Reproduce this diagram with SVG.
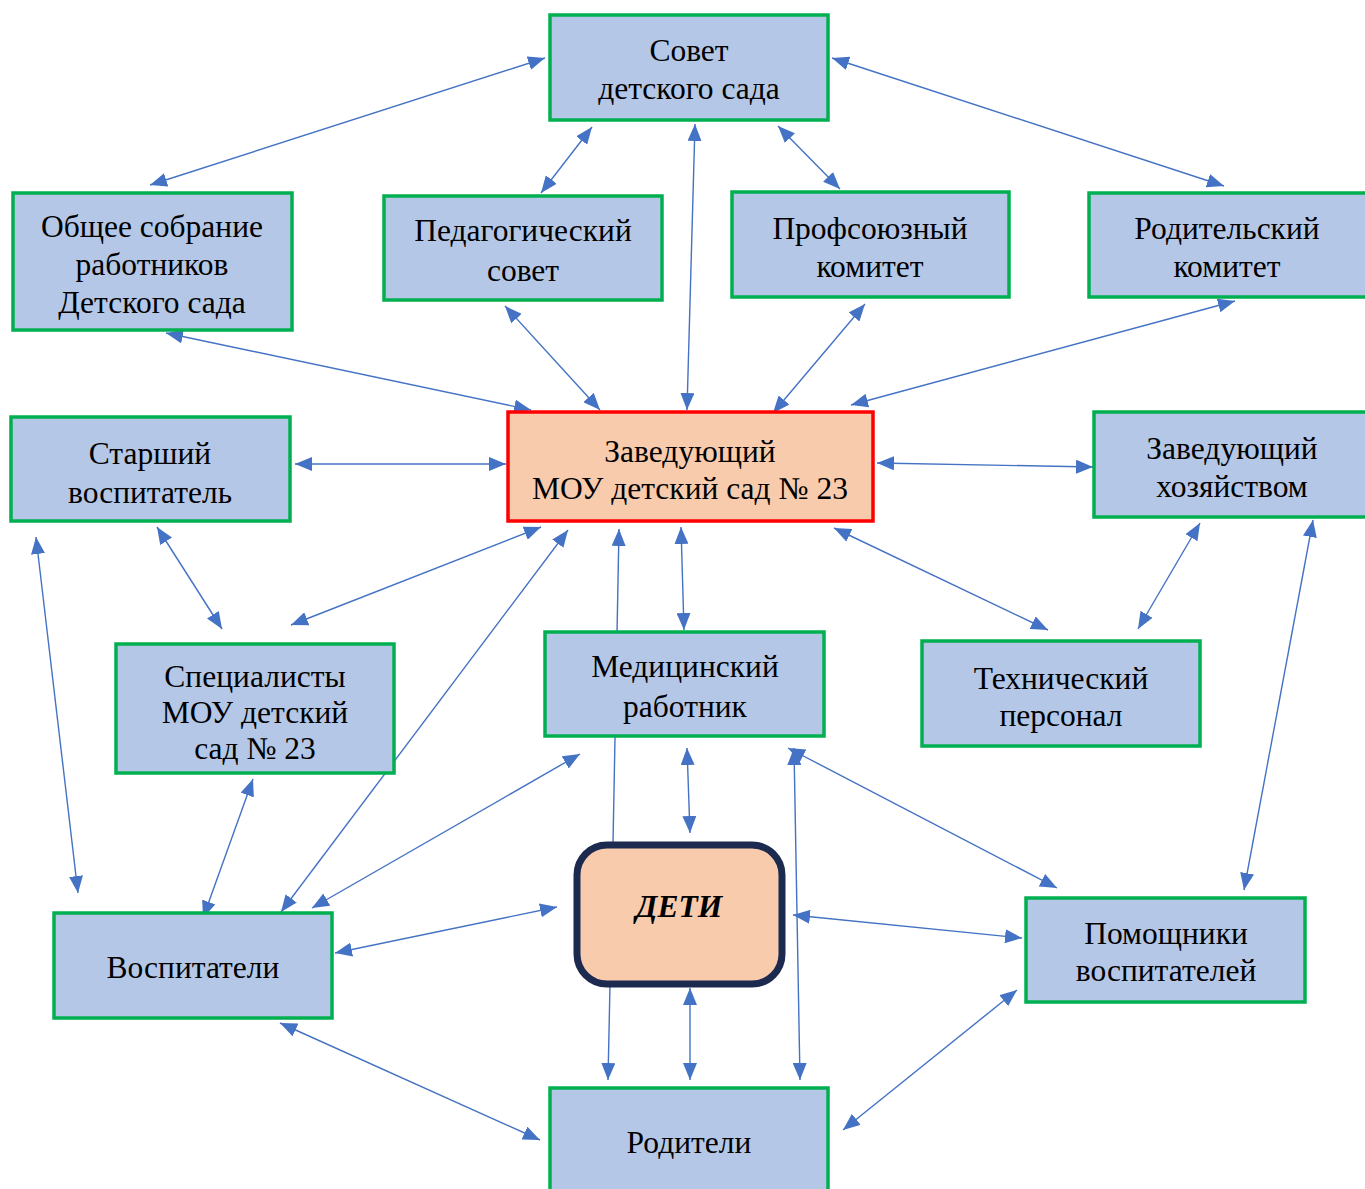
<svg xmlns="http://www.w3.org/2000/svg" width="1365" height="1189" viewBox="0 0 1365 1189">
<style>
.n{fill:#B4C7E7;stroke:#00B050;stroke-width:3.5}
.t{font-family:"Liberation Serif","Times New Roman",serif;font-size:31.5px;fill:#000;text-anchor:middle}
.c line{stroke:#4472C4;stroke-width:1.4}
</style>
<defs>
<marker id="a" markerUnits="userSpaceOnUse" markerWidth="18" markerHeight="14" viewBox="0 0 18 14" refX="17" refY="7" orient="auto-start-reverse">
<path d="M0,0 L17,7 L0,14 Z" fill="#4472C4"/>
</marker>
</defs>
<rect width="1365" height="1189" fill="#fff"/>
<g id="connectors" class="c">
<line x1="545" y1="58" x2="150" y2="185" marker-start="url(#a)" marker-end="url(#a)"/>
<line x1="592" y1="127" x2="541" y2="193" marker-start="url(#a)" marker-end="url(#a)"/>
<line x1="695" y1="124" x2="687" y2="410" marker-start="url(#a)" marker-end="url(#a)"/>
<line x1="778" y1="126" x2="840" y2="189" marker-start="url(#a)" marker-end="url(#a)"/>
<line x1="832" y1="58" x2="1224" y2="186" marker-start="url(#a)" marker-end="url(#a)"/>
<line x1="166" y1="333" x2="531" y2="410" marker-start="url(#a)" marker-end="url(#a)"/>
<line x1="505" y1="306" x2="600" y2="410" marker-start="url(#a)" marker-end="url(#a)"/>
<line x1="865" y1="304" x2="773" y2="413" marker-start="url(#a)" marker-end="url(#a)"/>
<line x1="1235" y1="301" x2="851" y2="405" marker-start="url(#a)" marker-end="url(#a)"/>
<line x1="295" y1="464" x2="506" y2="464" marker-start="url(#a)" marker-end="url(#a)"/>
<line x1="877" y1="463" x2="1093" y2="467" marker-start="url(#a)" marker-end="url(#a)"/>
<line x1="36" y1="537" x2="78" y2="893" marker-start="url(#a)" marker-end="url(#a)"/>
<line x1="157" y1="527" x2="222" y2="629" marker-start="url(#a)" marker-end="url(#a)"/>
<line x1="541" y1="527" x2="291" y2="625" marker-start="url(#a)" marker-end="url(#a)"/>
<line x1="568" y1="530" x2="281" y2="912" marker-start="url(#a)" marker-end="url(#a)"/>
<line x1="613" y1="843" x2="619" y2="529" marker-end="url(#a)"/>
<line x1="681" y1="527" x2="684" y2="630" marker-start="url(#a)" marker-end="url(#a)"/>
<line x1="834" y1="528" x2="1048" y2="630" marker-start="url(#a)" marker-end="url(#a)"/>
<line x1="1200" y1="523" x2="1138" y2="629" marker-start="url(#a)" marker-end="url(#a)"/>
<line x1="1313" y1="520" x2="1244" y2="890" marker-start="url(#a)" marker-end="url(#a)"/>
<line x1="253" y1="779" x2="203" y2="918" marker-start="url(#a)" marker-end="url(#a)"/>
<line x1="580" y1="754" x2="312" y2="908" marker-start="url(#a)" marker-end="url(#a)"/>
<line x1="687" y1="748" x2="690" y2="833" marker-start="url(#a)" marker-end="url(#a)"/>
<line x1="788" y1="748" x2="1057" y2="888" marker-start="url(#a)" marker-end="url(#a)"/>
<line x1="794" y1="748" x2="800" y2="1080" marker-start="url(#a)" marker-end="url(#a)"/>
<line x1="557" y1="907" x2="335" y2="953" marker-start="url(#a)" marker-end="url(#a)"/>
<line x1="793" y1="915" x2="1022" y2="938" marker-start="url(#a)" marker-end="url(#a)"/>
<line x1="610" y1="985" x2="608" y2="1080" marker-end="url(#a)"/>
<line x1="690" y1="988" x2="690" y2="1080" marker-start="url(#a)" marker-end="url(#a)"/>
<line x1="280" y1="1023" x2="540" y2="1140" marker-start="url(#a)" marker-end="url(#a)"/>
<line x1="1017" y1="990" x2="843" y2="1130" marker-start="url(#a)" marker-end="url(#a)"/>
</g>
<g id="sovet"><rect class="n" x="550" y="15" width="278" height="105"/><text class="t" x="689" y="61">Совет</text><text class="t" x="689" y="99">детского сада</text></g>
<g id="obshee"><rect class="n" x="13" y="193" width="279" height="137"/><text class="t" x="152" y="237">Общее собрание</text><text class="t" x="152" y="275">работников</text><text class="t" x="152" y="313">Детского сада</text></g>
<g id="ped"><rect class="n" x="384" y="196" width="278" height="104"/><text class="t" x="523" y="241">Педагогический</text><text class="t" x="523" y="281">совет</text></g>
<g id="prof"><rect class="n" x="732" y="192" width="277" height="105"/><text class="t" x="870" y="239">Профсоюзный</text><text class="t" x="870" y="277">комитет</text></g>
<g id="rodkom"><rect class="n" x="1089" y="193" width="278" height="104"/><text class="t" x="1227" y="239">Родительский</text><text class="t" x="1227" y="277">комитет</text></g>
<g id="zav"><rect x="508" y="412" width="365" height="109" fill="#F8CBAD" stroke="#FF0000" stroke-width="3.5"/><text class="t" x="690" y="462">Заведующий</text><text class="t" x="690" y="499">МОУ детский сад № 23</text></g>
<g id="starshiy"><rect class="n" x="11" y="417" width="279" height="104"/><text class="t" x="150" y="464">Старший</text><text class="t" x="150" y="503">воспитатель</text></g>
<g id="zavhoz"><rect class="n" x="1094" y="412" width="273" height="105"/><text class="t" x="1232" y="459">Заведующий</text><text class="t" x="1232" y="497">хозяйством</text></g>
<g id="spec"><rect class="n" x="116" y="644" width="278" height="129"/><text class="t" x="255" y="687">Специалисты</text><text class="t" x="255" y="723">МОУ детский</text><text class="t" x="255" y="759">сад № 23</text></g>
<g id="med"><rect class="n" x="545" y="632" width="279" height="104"/><text class="t" x="685" y="677">Медицинский</text><text class="t" x="685" y="717">работник</text></g>
<g id="tech"><rect class="n" x="922" y="641" width="278" height="105"/><text class="t" x="1061" y="689">Технический</text><text class="t" x="1061" y="726">персонал</text></g>
<g id="deti"><rect x="577" y="845" width="205" height="139" rx="30" fill="#F8CBAD" stroke="#1B2A4E" stroke-width="7"/><text class="t" x="679" y="917" font-weight="bold" font-style="italic">ДЕТИ</text></g>
<g id="vosp"><rect class="n" x="54" y="913" width="278" height="105"/><text class="t" x="193" y="978">Воспитатели</text></g>
<g id="pomosh"><rect class="n" x="1026" y="898" width="279" height="104"/><text class="t" x="1166" y="944">Помощники</text><text class="t" x="1166" y="981">воспитателей</text></g>
<g id="roditeli"><rect class="n" x="550" y="1088" width="278" height="110"/><text class="t" x="689" y="1153">Родители</text></g>
</svg>
